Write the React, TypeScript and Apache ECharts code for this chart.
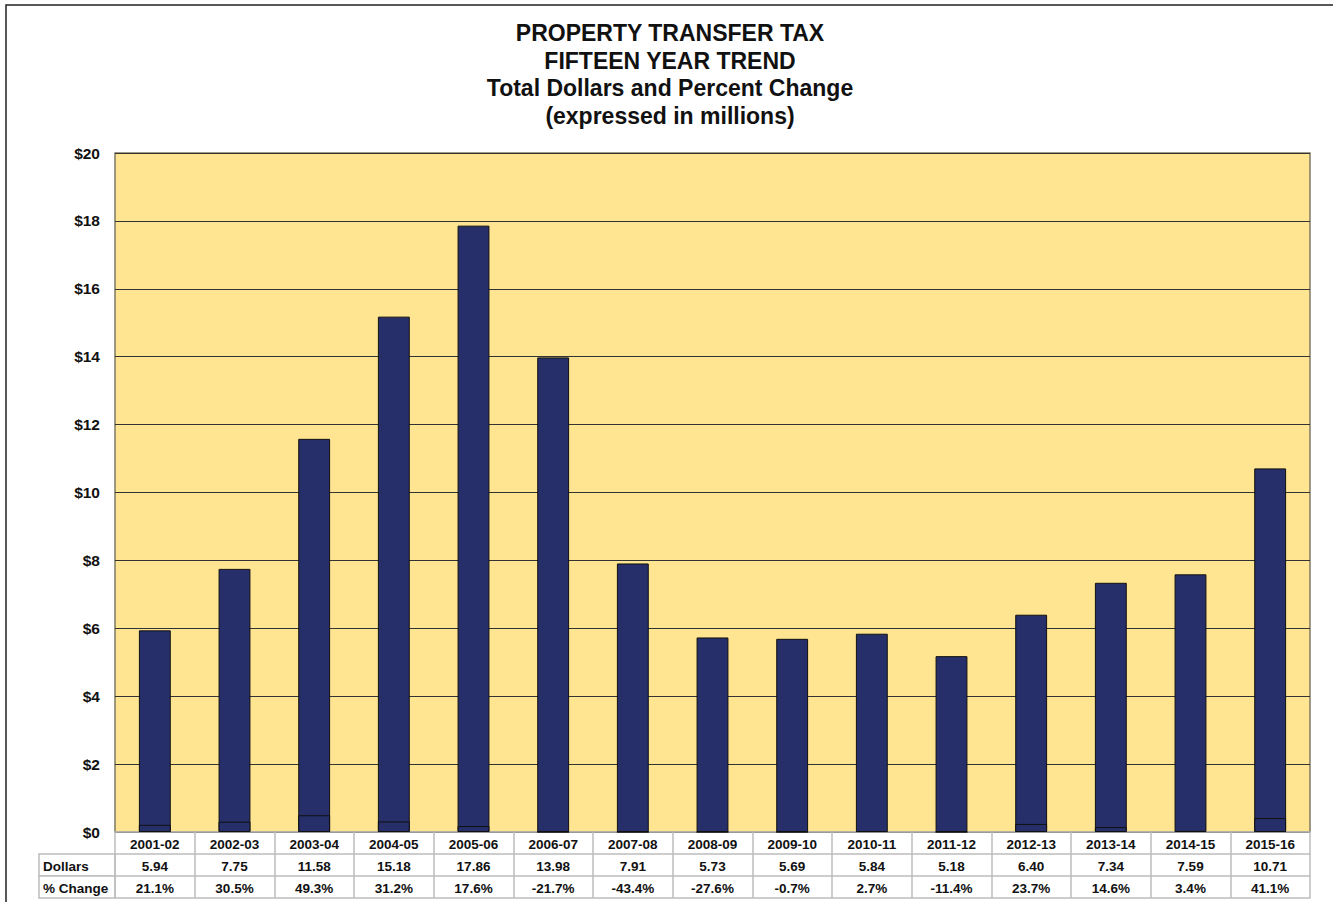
import React, { useEffect, useRef } from "react";
import * as echarts from "echarts";

const categories = ["2001-02","2002-03","2003-04","2004-05","2005-06","2006-07","2007-08","2008-09","2009-10","2010-11","2011-12","2012-13","2013-14","2014-15","2015-16"];
const dollars = [5.94, 7.75, 11.58, 15.18, 17.86, 13.98, 7.91, 5.73, 5.69, 5.84, 5.18, 6.40, 7.34, 7.59, 10.71];
const pctChange = [21.1, 30.5, 49.3, 31.2, 17.6, -21.7, -43.4, -27.6, -0.7, 2.7, -11.4, 23.7, 14.6, 3.4, 41.1];
const titleLines = ["PROPERTY TRANSFER TAX", "FIFTEEN YEAR TREND", "Total Dollars and Percent Change", "(expressed in millions)"];
const rowLabels = ["Dollars", "% Change"];

const FONT = "'Liberation Sans', Arial, sans-serif";
const NAVY = "#262F69";
const YELLOW = "#FFE492";
const TABLE_LINE = "#bdbdbd";

export default function App() {
  const ref = useRef<HTMLDivElement>(null);
  useEffect(() => {
    document.body.style.margin = "0";
    const chart = echarts.init(ref.current!, null, { renderer: "svg" });
    const gridLeft = 115, gridRight = 23, gridTop = 153, gridBottom = 70;
    const axisY = 902 - gridBottom; // 832
    const rowH = 22;
    const labelStyle = { color: "#111", fontWeight: "bold" as const, fontSize: 13.5, fontFamily: FONT, margin: 5 };
    const graphics: any[] = [
      { type: "rect", shape: { x: 6, y: 5, width: 1340, height: 900 }, style: { fill: "none", stroke: "#222", lineWidth: 1.5 }, silent: true },
    ];
    titleLines.forEach((t, i) => {
      graphics.push({ type: "text", x: 670, y: 33 + i * 27.5, style: { text: t, fill: "#111", font: `bold 23px ${FONT}`, textAlign: "center", textVerticalAlign: "middle" } });
    });
    rowLabels.forEach((t, i) => {
      const y0 = axisY + rowH * (i + 1);
      graphics.push({ type: "rect", shape: { x: 39, y: y0, width: gridLeft - 39, height: rowH }, style: { fill: "#fff", stroke: TABLE_LINE, lineWidth: 1.5 } });
      graphics.push({ type: "text", x: 43, y: y0 + rowH / 2 + 1, style: { text: t, fill: "#111", font: `bold 13.5px ${FONT}`, textAlign: "left", textVerticalAlign: "middle" } });
    });
    chart.setOption({
      animation: false,
      backgroundColor: "#fff",
      graphic: graphics,
      grid: { left: gridLeft, right: gridRight, top: gridTop, bottom: gridBottom, show: true, backgroundColor: YELLOW, borderColor: "#7d7866", borderWidth: 1.5 },
      xAxis: [
        {
          type: "category", data: categories, position: "bottom",
          axisLine: { show: true, lineStyle: { color: TABLE_LINE, width: 1.5 } },
          axisTick: { show: true, length: rowH * 3, interval: 0, lineStyle: { color: TABLE_LINE, width: 1.5 } },
          axisLabel: { ...labelStyle, interval: 0 },
        },
        {
          type: "category", data: dollars.map((v) => v.toFixed(2)), position: "bottom", offset: rowH,
          axisLine: { show: true, lineStyle: { color: TABLE_LINE, width: 1.5 } },
          axisTick: { show: false }, axisLabel: { ...labelStyle, interval: 0 },
        },
        {
          type: "category", data: pctChange.map((v) => v.toFixed(1) + "%"), position: "bottom", offset: rowH * 2,
          axisLine: { show: true, lineStyle: { color: TABLE_LINE, width: 1.5 } },
          axisTick: { show: false }, axisLabel: { ...labelStyle, interval: 0 },
        },
        {
          type: "category", data: categories, position: "bottom", offset: rowH * 3,
          axisLine: { show: true, lineStyle: { color: TABLE_LINE, width: 1.5 } },
          axisTick: { show: false }, axisLabel: { show: false },
        },
      ],
      yAxis: {
        type: "value", min: 0, max: 20, interval: 2,
        axisLine: { show: false }, axisTick: { show: false },
        axisLabel: { color: "#111", fontWeight: "bold", fontSize: 15.5, fontFamily: FONT, margin: 15, formatter: (v: number) => "$" + v },
        splitLine: { show: true, lineStyle: { color: "#333", width: 1.2 } },
      },
      series: [
        {
          type: "bar", name: "Dollars", data: dollars, barWidth: "40%", xAxisIndex: 0,
          itemStyle: { color: NAVY, borderColor: "#111", borderWidth: 1 },
        },
        {
          type: "bar", name: "% Change", data: pctChange.map((v) => Math.max(0, v / 100)), barWidth: "40%", barGap: "-100%", xAxisIndex: 0,
          itemStyle: { color: NAVY, borderColor: "#111", borderWidth: 1 },
        },
      ],
    });
    return () => chart.dispose();
  }, []);
  return <div ref={ref} style={{ width: 1333, height: 902 }} />;
}
